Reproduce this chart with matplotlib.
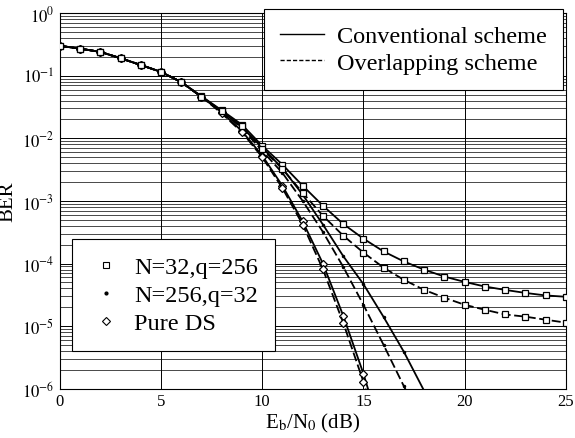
import matplotlib
matplotlib.use("Agg")
import matplotlib.pyplot as plt
from matplotlib.lines import Line2D
import numpy as np

plt.rcParams['font.family'] = ['Liberation Serif', 'DejaVu Serif']
plt.rcParams['mathtext.fontset'] = 'stix'

# ---- data ----
snr_n32 = list(range(0, 26))
ber_n32_conv = [0.30, 0.27, 0.24, 0.19, 0.148, 0.115, 0.079, 0.047, 0.028, 0.0165,
                7.6e-3, 3.8e-3, 1.75e-3, 8.4e-4, 4.3e-4, 2.5e-4, 1.56e-4, 1.08e-4,
                8.0e-5, 6.2e-5, 5.1e-5, 4.3e-5, 3.8e-5, 3.4e-5, 3.1e-5, 2.95e-5]
ber_n32_over = [0.30, 0.27, 0.24, 0.19, 0.148, 0.115, 0.079, 0.046, 0.027, 0.0155,
                6.8e-3, 3.25e-3, 1.35e-3, 5.8e-4, 2.8e-4, 1.5e-4, 8.6e-5, 5.5e-5,
                3.8e-5, 2.85e-5, 2.2e-5, 1.83e-5, 1.54e-5, 1.42e-5, 1.27e-5, 1.14e-5]

snr_n256 = list(range(0, 19))
ber_n256_conv = [0.30, 0.27, 0.24, 0.19, 0.148, 0.115, 0.079, 0.046, 0.027, 0.015,
                 7.1e-3, 3.3e-3, 1.26e-3, 4.2e-4, 1.32e-4, 4.7e-5, 1.4e-5, 3.9e-6, 9.3e-7]
ber_n256_over = [0.30, 0.27, 0.24, 0.19, 0.148, 0.115, 0.079, 0.046, 0.027, 0.0145,
                 6.3e-3, 2.8e-3, 1.0e-3, 3.2e-4, 8.9e-5, 2.2e-5, 5.0e-6, 1.1e-6, 2.5e-7]

snr_ds = list(range(0, 17))
ber_ds_conv = [0.30, 0.27, 0.24, 0.19, 0.148, 0.115, 0.079, 0.046, 0.026, 0.013,
               5.3e-3, 1.74e-3, 4.7e-4, 1.0e-4, 1.48e-5, 1.75e-6, 1.5e-7]
ber_ds_over = [0.30, 0.27, 0.24, 0.19, 0.148, 0.115, 0.079, 0.046, 0.025, 0.0125,
               5.0e-3, 1.6e-3, 4.2e-4, 8.1e-5, 1.14e-5, 1.3e-6, 1.1e-7]

x_ticks = [0, 5, 10, 15, 20, 25]
scheme_labels = ['Conventional scheme', 'Overlapping scheme']
case_labels = ['N=32,q=256', 'N=256,q=32', 'Pure DS']

# ---- figure ----
fig = plt.figure(figsize=(5.75, 4.39), dpi=100)
ax = fig.add_axes([0.104, 0.112, 0.880, 0.856])

lw = 1.3
sq = dict(marker='s', markersize=5, markerfacecolor='white', markeredgecolor='black', markeredgewidth=0.9)
dm = dict(marker='D', markersize=4, markerfacecolor='white', markeredgecolor='black', markeredgewidth=0.9)
dt = dict(marker='o', markersize=1.5, markerfacecolor='black', markeredgecolor='black')

ax.plot(snr_n256, ber_n256_conv, color='black', lw=lw, ls='-', **dt, zorder=3)
ax.plot(snr_n256, ber_n256_over, color='black', lw=lw, ls=(0, (5, 2)), **dt, zorder=3)
ax.plot(snr_ds, ber_ds_conv, color='black', lw=lw, ls='-', markevery=list(range(16)), **dm, zorder=4)
ax.plot(snr_ds, ber_ds_over, color='black', lw=lw, ls=(0, (5, 2)), markevery=list(range(16)), **dm, zorder=4)
ax.plot(snr_n32, ber_n32_conv, color='black', lw=lw, ls='-', **sq, zorder=5)
ax.plot(snr_n32, ber_n32_over, color='black', lw=lw, ls=(0, (5, 2)), **sq, zorder=5)

ax.set_yscale('log')
ax.set_xlim(0, 25)
ax.set_ylim(1e-6, 1)
ax.set_xticks(x_ticks)
ax.set_xticklabels([str(t) for t in x_ticks])
ax.set_yticks([10.0**k for k in range(-6, 1)])
ax.set_yticklabels([r'$10^{%d}$' % k for k in range(-6, 1)])
ax.yaxis.set_minor_locator(matplotlib.ticker.LogLocator(base=10, subs=np.arange(2, 10)))
ax.yaxis.set_minor_formatter(matplotlib.ticker.NullFormatter())
ax.grid(True, which='major', color='black', lw=0.7)
ax.grid(True, which='minor', axis='y', color='black', lw=0.5)
ax.tick_params(which='both', length=0, labelsize=12)
ax.tick_params(axis='y', pad=4)
ax.tick_params(axis='x', pad=3)
for s in ax.spines.values():
    s.set_linewidth(0.8)

ax.set_xlabel(r'E$_\mathrm{b}$/N$_0$ (dB)', fontsize=15)
ax.xaxis.set_label_coords(0.5, -0.06)
ax.set_ylabel('BER', fontsize=15)
ax.yaxis.set_label_coords(-0.083, 0.5)

# legends
h1 = [Line2D([], [], color='black', lw=1.0, ls='-'),
      Line2D([], [], color='black', lw=1.0, ls=(0, (3, 1.5)))]
leg1 = ax.legend(h1, scheme_labels, loc='upper right', bbox_to_anchor=(0.994, 1.01),
                 fontsize=17.5, frameon=True, fancybox=False, edgecolor='black',
                 framealpha=1, handlelength=1.8, handletextpad=0.55, borderpad=0.65,
                 labelspacing=0.2, borderaxespad=0)
leg1.get_frame().set_linewidth(0.8)
ax.add_artist(leg1)

h2 = [Line2D([], [], color='black', ls='none', marker='s', markersize=5,
             markerfacecolor='white', markeredgewidth=0.8),
      Line2D([], [], color='black', ls='none', marker='o', markersize=2),
      Line2D([], [], color='black', ls='none', marker='D', markersize=4,
             markerfacecolor='white', markeredgewidth=0.8)]
leg2 = ax.legend(h2, case_labels, loc='lower left', bbox_to_anchor=(0.024, 0.10),
                 fontsize=17.5, frameon=True, fancybox=False, edgecolor='black',
                 framealpha=1, handlelength=1.4, handletextpad=0.45, borderpad=0.7,
                 labelspacing=0.25, borderaxespad=0)
leg2.get_frame().set_linewidth(0.8)

fig.savefig('out.png', dpi=100)
